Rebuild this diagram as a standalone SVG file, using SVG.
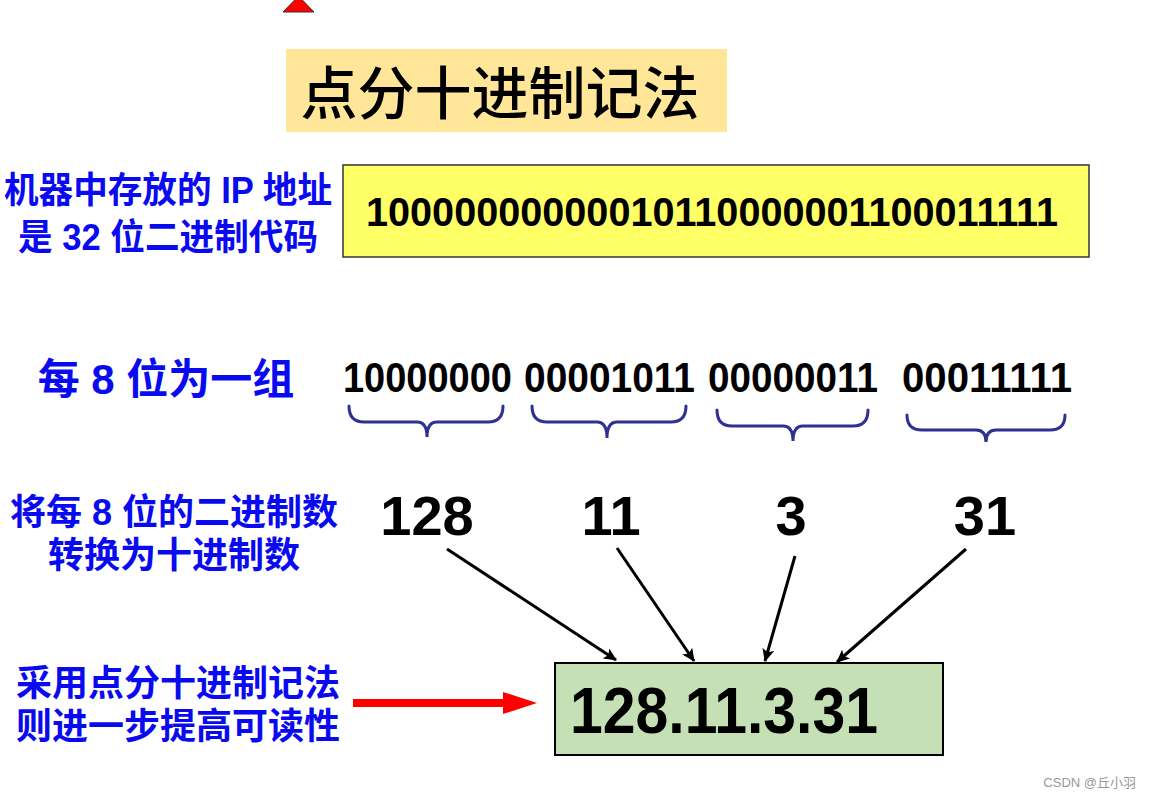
<svg xmlns="http://www.w3.org/2000/svg" width="1151" height="799" viewBox="0 0 1151 799">
<style>
.lbl{font-family:"Liberation Sans","Noto Sans CJK SC",sans-serif;font-weight:bold;fill:#0A0AF0;font-size:36px;text-anchor:middle}
.big{font-size:42px}
.num{font-family:"Liberation Sans Narrow","Liberation Sans",sans-serif;font-weight:bold;fill:#000}
.brace{fill:none;stroke:#2E3192;stroke-width:3;stroke-linecap:round}
.conn{stroke:#000;stroke-width:3;fill:none}
</style>
<defs>
<marker id="ah" markerUnits="userSpaceOnUse" markerWidth="14" markerHeight="12" refX="12" refY="6" orient="auto">
<path d="M0,0 L13,6 L0,12 L3,6 Z" fill="#000"/>
</marker>
</defs>
<rect width="1151" height="799" fill="#fff"/>
<polygon points="283,12 314,12 298.5,-4" fill="#FF0000" stroke="#333" stroke-width="1"/>

<g id="title">
<rect x="286" y="49" width="441" height="83" fill="#FFE699"/>
<text x="500" y="114" font-family="'Noto Sans CJK SC',sans-serif" font-weight="500" font-size="57" text-anchor="middle" fill="#000">点分十进制记法</text>
</g>

<g id="label1">
<text class="lbl" x="168" y="203" textLength="328" lengthAdjust="spacingAndGlyphs">机器中存放的 IP 地址</text>
<text class="lbl" x="168" y="250" textLength="300" lengthAdjust="spacingAndGlyphs">是 32 位二进制代码</text>
</g>

<g id="binary">
<rect x="343" y="165" width="746" height="92" fill="#FFFF66" stroke="#333" stroke-width="1.5"/>
<text class="num" x="366" y="226" font-size="40" textLength="692" lengthAdjust="spacingAndGlyphs">10000000000010110000001100011111</text>
</g>

<g id="label2">
<text class="lbl big" x="166" y="394">每 8 位为一组</text>
</g>

<g id="groups">
<text class="num" x="343" y="392" font-size="42" textLength="169" lengthAdjust="spacingAndGlyphs">10000000</text>
<text class="num" x="524" y="392" font-size="42" textLength="171" lengthAdjust="spacingAndGlyphs">00001011</text>
<text class="num" x="708" y="392" font-size="42" textLength="170" lengthAdjust="spacingAndGlyphs">00000011</text>
<text class="num" x="902" y="392" font-size="42" textLength="170" lengthAdjust="spacingAndGlyphs">00011111</text>
</g>

<g id="braces">
<path class="brace" d="M349,406 Q349,422 364,422 L417,422 Q427,422 427,437 Q427,422 437,422 L488,422 Q503,422 503,406"/>
<path class="brace" d="M532,406 Q532,422 547,422 L597,422 Q607,422 607,438 Q607,422 617,422 L671,422 Q686,422 686,406"/>
<path class="brace" d="M717,410 Q717,426 732,426 L783,426 Q793,426 793,441 Q793,426 803,426 L853,426 Q868,426 868,410"/>
<path class="brace" d="M907,415 Q907,430 922,430 L976,430 Q986,430 986,442 Q986,430 996,430 L1050,430 Q1065,430 1065,415"/>
</g>

<g id="label3">
<text class="lbl" x="174" y="525">将每 8 位的二进制数</text>
<text class="lbl" x="174" y="568">转换为十进制数</text>
</g>

<g id="decimals">
<text class="num" x="427" y="535" font-size="56" text-anchor="middle">128</text>
<text class="num" x="611" y="535" font-size="56" text-anchor="middle">11</text>
<text class="num" x="791" y="535" font-size="56" text-anchor="middle">3</text>
<text class="num" x="985" y="535" font-size="56" text-anchor="middle">31</text>
</g>

<g id="label4">
<text class="lbl" x="178" y="696">采用点分十进制记法</text>
<text class="lbl" x="178" y="739">则进一步提高可读性</text>
</g>

<g id="result">
<rect x="555" y="663" width="388" height="92" fill="#C5E0B4" stroke="#000" stroke-width="2"/>
<text class="num" x="570" y="733" font-size="64" textLength="308" lengthAdjust="spacingAndGlyphs">128.11.3.31</text>
</g>

<g id="connectors">
<line class="conn" x1="447" y1="549" x2="616" y2="660" marker-end="url(#ah)"/>
<line class="conn" x1="617" y1="548" x2="694" y2="661" marker-end="url(#ah)"/>
<line class="conn" x1="795" y1="556" x2="765" y2="661" marker-end="url(#ah)"/>
<line class="conn" x1="966" y1="549" x2="837" y2="662" marker-end="url(#ah)"/>
<polygon points="353,699 503,699 503,692 537,703 503,714 503,707 353,707" fill="#FF0000"/>
</g>

<text x="1136" y="787" font-family="'Liberation Sans','Noto Sans CJK SC',sans-serif" font-size="13" fill="#999" text-anchor="end">CSDN @丘小羽</text>
</svg>
